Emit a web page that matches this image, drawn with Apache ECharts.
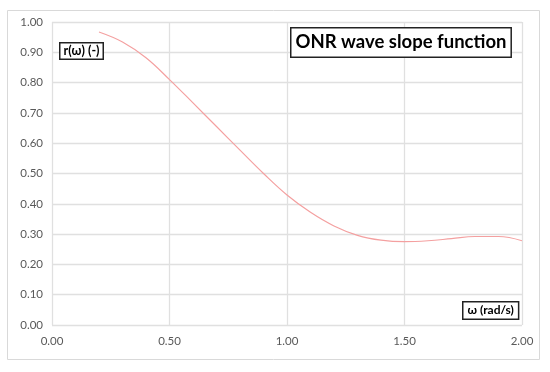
<!DOCTYPE html>
<html><head><meta charset="utf-8">
<script src="https://cdn.jsdelivr.net/npm/echarts@6/dist/echarts.min.js"></script>
<style>html,body{margin:0;padding:0;background:#fff}#c{width:550px;height:372px}</style>
</head><body><div id="c"></div>
<script>
const omega = [0.2,0.3,0.4,0.5,0.6,0.7,0.8,0.9,1.0,1.1,1.2,1.3,1.4,1.5,1.6,1.7,1.8,1.9,2.0];
const rValues = [0.967,0.934,0.882,0.810,0.733,0.655,0.577,0.500,0.429,0.372,0.327,0.296,0.280,0.275,0.278,0.285,0.292,0.292,0.278];
const titleText = 'ONR wave slope function';
const yLabel = 'r(ω) (-)';
const xLabel = 'ω (rad/s)';
const FONT = 'Lato';
const chart = echarts.init(document.getElementById('c'));
const boxText = (x, y, text, size, pad) => ({
  type: 'text', left: x, top: y, z: 100,
  style: { text, font: 'bold ' + size + 'px ' + FONT, fill: '#000', backgroundColor: '#fff',
    borderColor: '#222', borderWidth: 1.5, padding: pad }
});
chart.setOption({
  animation: false,
  grid: { left: 52, right: 28, top: 22, bottom: 47 },
  xAxis: { type: 'value', min: 0, max: 2, interval: 0.5,
    axisLine: { show: false }, axisTick: { show: false },
    splitLine: { lineStyle: { color: '#e0e0e0', width: 1.3 } },
    axisLabel: { color: '#595959', fontFamily: FONT, fontSize: 11.5, margin: 10, formatter: v => v.toFixed(2) } },
  yAxis: { type: 'value', min: 0, max: 1, interval: 0.1,
    axisLine: { show: false }, axisTick: { show: false },
    splitLine: { lineStyle: { color: '#e0e0e0', width: 1.3 } },
    axisLabel: { color: '#595959', fontFamily: FONT, fontSize: 11.5, margin: 9, formatter: v => v.toFixed(2) } },
  series: [{ type: 'line', smooth: 0.4, symbol: 'none',
    lineStyle: { color: '#f4a0a0', width: 1.2 },
    data: omega.map((x, i) => [x, rValues[i]]) }],
  graphic: [
    { type: 'rect', z: -1, shape: { x: 7.5, y: 10.5, width: 532, height: 349 }, style: { fill: 'none', stroke: '#d9d9d9', lineWidth: 1 } },
    boxText(290, 27, titleText, 18.5, [4, 4, 5, 4]),
    boxText(59, 42, yLabel, 12.5, [1, 3, 1, 3]),
    boxText(462, 301, xLabel, 12, [2, 4, 2, 4])
  ]
});
</script></body></html>
